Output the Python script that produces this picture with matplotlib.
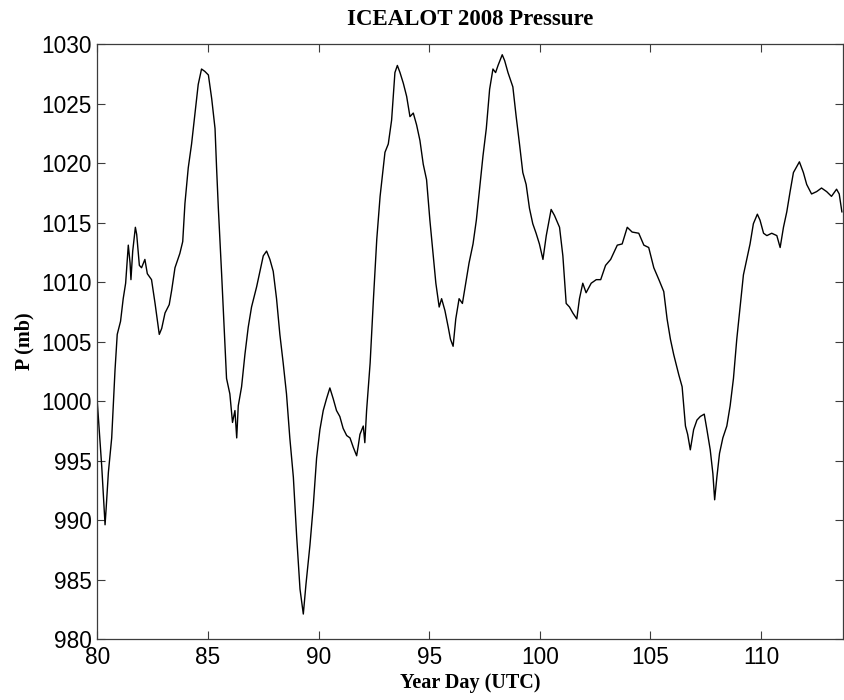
import matplotlib
matplotlib.use("Agg")
import matplotlib.pyplot as plt

# year day (UTC) and pressure (mb)
day = [80.00, 80.20, 80.35, 80.40, 80.50, 80.65, 80.80, 80.90, 81.05, 81.17,
       81.28, 81.40, 81.48, 81.52, 81.60, 81.72, 81.78, 81.90, 82.00, 82.15,
       82.26, 82.45, 82.61, 82.80, 82.91, 83.06, 83.25, 83.36, 83.51, 83.73,
       83.86, 83.96, 84.11, 84.26, 84.41, 84.56, 84.71, 84.86, 85.02, 85.17,
       85.32, 85.39, 85.47, 85.62, 85.77, 85.84, 85.99, 86.11, 86.22, 86.30,
       86.37, 86.52, 86.67, 86.82, 86.97, 87.20, 87.35, 87.50, 87.65, 87.80,
       87.95, 88.10, 88.25, 88.40, 88.55, 88.70, 88.86, 89.01, 89.16, 89.31,
       89.43, 89.61, 89.76, 89.91, 90.06, 90.21, 90.36, 90.51, 90.66, 90.81,
       90.96, 91.11, 91.27, 91.42, 91.57, 91.72, 91.79, 91.87, 92.02, 92.09,
       92.17, 92.33, 92.48, 92.63, 92.78, 92.90, 93.00, 93.15, 93.30, 93.45,
       93.56, 93.68, 93.83, 93.98, 94.13, 94.28, 94.43, 94.58, 94.73, 94.88,
       95.03, 95.18, 95.30, 95.45, 95.56, 95.71, 95.86, 95.96, 96.08, 96.20,
       96.35, 96.50, 96.65, 96.80, 96.98, 97.13, 97.28, 97.43, 97.58, 97.73,
       97.88, 98.00, 98.11, 98.30, 98.41, 98.56, 98.78, 98.93, 99.08, 99.23,
       99.38, 99.53, 99.68, 99.83, 99.98, 100.14, 100.29, 100.51, 100.66, 100.89,
       101.04, 101.19, 101.34, 101.49, 101.67, 101.79, 101.94, 102.09, 102.32, 102.55,
       102.75, 102.97, 103.20, 103.50, 103.72, 103.95, 104.17, 104.47, 104.70, 104.92,
       105.15, 105.38, 105.60, 105.75, 105.90, 106.05, 106.28, 106.43, 106.58, 106.68,
       106.80, 106.95, 107.10, 107.25, 107.43, 107.55, 107.70, 107.82, 107.90, 108.00,
       108.12, 108.27, 108.45, 108.60, 108.75, 108.90, 109.05, 109.20, 109.35, 109.50,
       109.65, 109.83, 109.95, 110.11, 110.26, 110.48, 110.71, 110.86, 111.01, 111.16,
       111.31, 111.46, 111.61, 111.73, 111.91, 112.06, 112.28, 112.51, 112.73, 112.96,
       113.18, 113.41, 113.53, 113.65]
pressure = [999.9, 994.5, 989.6, 991.0, 994.0, 996.9, 1002.6, 1005.6, 1006.7, 1008.6,
            1009.9, 1013.1, 1011.6, 1010.2, 1012.6, 1014.6, 1014.0, 1011.4, 1011.2, 1011.9,
            1010.7, 1010.2, 1008.2, 1005.6, 1006.1, 1007.4, 1008.1, 1009.3, 1011.2, 1012.4,
            1013.4, 1016.6, 1019.6, 1021.6, 1024.1, 1026.6, 1027.9, 1027.7, 1027.4, 1025.4,
            1022.9, 1019.6, 1016.2, 1010.6, 1004.6, 1001.9, 1000.6, 998.2, 999.2, 996.9,
            999.6, 1001.2, 1003.9, 1006.2, 1007.9, 1009.6, 1010.9, 1012.2, 1012.6, 1011.9,
            1010.9, 1008.6, 1005.6, 1003.2, 1000.6, 996.9, 993.6, 988.6, 984.2, 982.1,
            984.6, 987.9, 991.2, 995.2, 997.6, 999.2, 1000.2, 1001.1, 1000.2, 999.2,
            998.7, 997.7, 997.1, 996.9, 996.1, 995.4, 996.2, 997.2, 997.9, 996.5,
            999.2, 1003.2, 1008.6, 1013.6, 1017.2, 1019.2, 1020.9, 1021.6, 1023.6, 1027.6,
            1028.2, 1027.6, 1026.7, 1025.6, 1023.9, 1024.2, 1023.2, 1021.9, 1019.9, 1018.6,
            1015.2, 1012.2, 1009.9, 1007.9, 1008.6, 1007.6, 1006.2, 1005.2, 1004.6, 1006.9,
            1008.6, 1008.2, 1009.9, 1011.6, 1013.2, 1015.2, 1017.9, 1020.6, 1022.9, 1026.2,
            1027.9, 1027.6, 1028.2, 1029.1, 1028.6, 1027.6, 1026.4, 1023.9, 1021.6, 1019.2,
            1018.2, 1016.2, 1014.9, 1014.1, 1013.2, 1011.9, 1013.9, 1016.1, 1015.6, 1014.6,
            1012.2, 1008.2, 1007.9, 1007.4, 1006.9, 1008.6, 1009.9, 1009.1, 1009.9, 1010.2,
            1010.2, 1011.4, 1011.9, 1013.1, 1013.2, 1014.6, 1014.2, 1014.1, 1013.1, 1012.9,
            1011.2, 1010.2, 1009.2, 1006.9, 1005.2, 1003.9, 1002.2, 1001.2, 997.9, 997.2,
            995.9, 997.6, 998.4, 998.7, 998.9, 997.6, 995.9, 993.9, 991.7, 993.6,
            995.6, 996.9, 997.9, 999.6, 1001.9, 1005.2, 1007.9, 1010.6, 1011.9, 1013.2,
            1014.9, 1015.7, 1015.2, 1014.1, 1013.9, 1014.1, 1013.9, 1012.9, 1014.6, 1015.9,
            1017.6, 1019.2, 1019.7, 1020.1, 1019.2, 1018.2, 1017.4, 1017.6, 1017.9, 1017.6,
            1017.2, 1017.8, 1017.4, 1015.9]

x_ticks = [80, 85, 90, 95, 100, 105, 110]
y_ticks = [980, 985, 990, 995, 1000, 1005, 1010, 1015, 1020, 1025, 1030]

fig = plt.figure(figsize=(8.44, 7.00), dpi=100)
ax = fig.add_axes([0.1153, 0.0871, 0.8835, 0.85])
ax.plot(day, pressure, color="black", linewidth=1.0)

ax.set_xlim(80, 113.7)
ax.set_ylim(980, 1030)
ax.set_xticks(x_ticks)
ax.set_yticks(y_ticks)
ax.tick_params(direction="in", length=6, width=0.8, top=True, right=True,
               color="#3c3c3c", labelsize=16.3)
ax.tick_params(axis="x", pad=5)
ax.tick_params(axis="y", pad=4)
for lbl in ax.get_xticklabels() + ax.get_yticklabels():
    lbl.set_family("Liberation Sans")
for s in ax.spines.values():
    s.set_color("#3c3c3c")
    s.set_linewidth(0.9)

serif = {"family": "Liberation Serif", "weight": "bold"}
ax.set_title("ICEALOT 2008 Pressure", fontdict=serif, fontsize=16.5, pad=14)
ax.set_xlabel("Year Day (UTC)", fontdict=serif, fontsize=14.5, labelpad=3)
ax.set_ylabel("P (mb)", fontdict=serif, fontsize=14.5, labelpad=5)

fig.savefig("out.png", dpi=100)
